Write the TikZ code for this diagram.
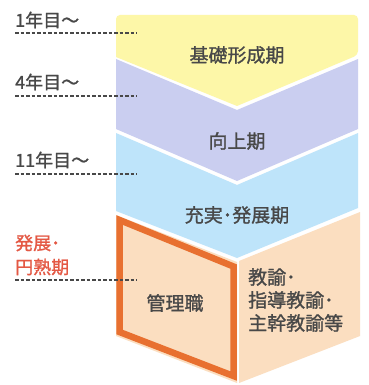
\documentclass[tikz,border=0pt]{standalone}
\usepackage{fontspec}
\setmainfont{Noto Sans CJK JP}[FakeBold=1.2]
\usepackage{tikz}
\definecolor{bandyellow}{RGB}{253,247,168}
\definecolor{bandpurple}{RGB}{202,206,240}
\definecolor{bandblue}{RGB}{190,228,250}
\definecolor{bandpeach}{RGB}{251,222,192}
\definecolor{frameorange}{RGB}{232,112,48}
\definecolor{labelred}{RGB}{228,88,68}
\definecolor{textgray}{RGB}{72,72,72}
\tikzset{
    phase/.style = {text = textgray, font = \fontsize{19}{23}\selectfont},
    year/.style = {anchor = west, text = textgray, font = \fontsize{18}{24}\selectfont, inner sep = 0},
    guide/.style = {dash pattern = on 3.5pt off 2pt, textgray, line width = 1.1pt}
}
\begin{document}
\begin{tikzpicture}[x = 1pt, y = -1pt]
        \useasboundingbox [fill = white] (0, 0) rectangle (368, 385);
        % bands
        \fill [bandyellow, rounded corners = 4pt] (116, 57) -- (116, 15) -- (358, 15) -- (358, 55) [sharp corners] -- (237, 106) -- cycle;
        \fill [bandpurple] (116, 59) -- (237, 110) -- (358, 59) -- (358, 129) -- (237, 181) -- (116, 129) -- cycle;
        \fill [bandblue] (116, 133) -- (237, 185) -- (358, 133) -- (358, 208) -- (237, 258) -- (116, 211) -- cycle;
        \fill [bandpeach] (116, 215) -- (237, 262) -- (237, 383) -- (116, 336) -- cycle;
        \fill [bandpeach] (239, 261) -- (360, 212) -- (360, 336) -- (239, 383) -- cycle;
        \draw [frameorange, line width = 6.5pt, line join = miter] (119.5, 220) -- (233.5, 266.5) -- (233.5, 376) -- (119.5, 332) -- cycle;
        % year marks
        \node [year] (y1) at (15, 20) {1年目〜};
        \node [year] (y4) at (15, 82) {4年目〜};
        \node [year] (y11) at (15, 160) {11年目〜};
        \node [year, text = labelred, align = left] (y20) at (15, 255) {発展･\\円熟期};
        \coordinate (g1) at (137, 33);
        \coordinate (g4) at (137, 96);
        \coordinate (g11) at (137, 174);
        \coordinate (g20) at (137, 280);
        \foreach \n/\y in {1/33, 4/96, 11/174, 20/280}
            \draw [guide] (15, \y) -- (g\n);
        % phase names
        \node [phase] (basic) at (237, 55) {基礎形成期};
        \node [phase] (improve) at (237, 141) {向上期};
        \node [phase] (develop) at (237, 215) {充実･発展期};
        \node [phase] (admin) at (175, 303) {管理職};
        \node [phase, anchor = west, align = left, inner sep = 0, font = \fontsize{19}{23}\selectfont] (teacher) at (248, 300) {教諭･\\指導教諭･\\主幹教諭等};
    \end{tikzpicture}
\end{document}
